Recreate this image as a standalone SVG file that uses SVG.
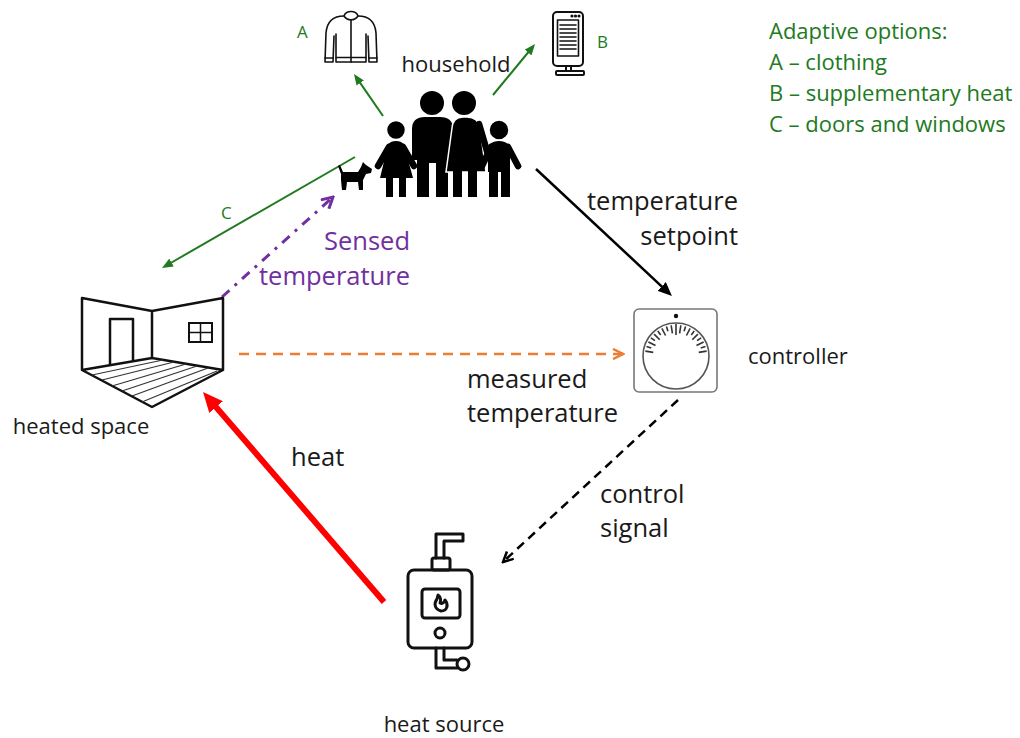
<svg xmlns="http://www.w3.org/2000/svg" width="1020" height="738" viewBox="0 0 1020 738">
  <style>
    text { font-family: "Open Sans", "Noto Sans", sans-serif; }
    .lbl { font-size: 22px; fill: #1a1a1a; }
    .edge { font-size: 25.5px; fill: #1a1a1a; }
    .grn { fill: #217a21; }
    .small { font-size: 17px; }
    .icon { fill: none; stroke: #111; stroke-width: 1.6; stroke-linejoin: round; stroke-linecap: round; }
    .boiler { fill: none; stroke: #111; stroke-width: 3; stroke-linejoin: round; stroke-linecap: round; }
    .room { fill: none; stroke: #111; stroke-width: 2.5; stroke-linejoin: round; }
    .floor { stroke: #333; stroke-width: 1.2; }
    .sil { fill: #000; }
    .limb { stroke: #000; stroke-width: 6.5; stroke-linecap: round; fill: none; }
    .tick { stroke: #333; stroke-width: 1.6; }
  </style>
  <defs>
    <marker id="hGreen" viewBox="0 0 11 9" markerWidth="11" markerHeight="9" refX="2" refY="4.5" orient="auto" markerUnits="userSpaceOnUse">
      <path d="M0,0 L11,4.5 L0,9 Z" fill="#217a21"/>
    </marker>
    <marker id="hBlack" viewBox="0 0 14 12" markerWidth="14" markerHeight="12" refX="2" refY="6" orient="auto" markerUnits="userSpaceOnUse">
      <path d="M0,0 L14,6 L0,12 Z" fill="#000"/>
    </marker>
    <marker id="hRed" viewBox="0 0 20 18" markerWidth="20" markerHeight="18" refX="2" refY="9" orient="auto" markerUnits="userSpaceOnUse">
      <path d="M0,0 L20,9 L0,18 Z" fill="#ff0000"/>
    </marker>
    <marker id="oPurple" viewBox="-1 -1 14 14" markerWidth="14" markerHeight="14" refX="11" refY="6" orient="auto" markerUnits="userSpaceOnUse">
      <path d="M0,0 L11,6 L0,12" fill="none" stroke="#7030a0" stroke-width="3" stroke-linejoin="miter"/>
    </marker>
    <marker id="oOrange" viewBox="-1 -1 13 12" markerWidth="13" markerHeight="12" refX="10" refY="5" orient="auto" markerUnits="userSpaceOnUse">
      <path d="M0,0 L10,5 L0,10" fill="none" stroke="#ed7d31" stroke-width="2.5"/>
    </marker>
    <marker id="oBlack" viewBox="-1 -1 13 12" markerWidth="13" markerHeight="12" refX="10" refY="5" orient="auto" markerUnits="userSpaceOnUse">
      <path d="M0,0 L10,5 L0,10" fill="none" stroke="#000" stroke-width="2.5"/>
    </marker>
  </defs>
  <rect width="1020" height="738" fill="#fff"/>

  <!-- connectors -->
  <g id="connectors" fill="none">
    <line x1="383" y1="116" x2="359.1" y2="81.4" stroke="#217a21" stroke-width="2" marker-end="url(#hGreen)"/>
    <line x1="493" y1="95" x2="529.3" y2="51" stroke="#217a21" stroke-width="2" marker-end="url(#hGreen)"/>
    <line x1="355" y1="157" x2="169.8" y2="263.5" stroke="#217a21" stroke-width="2" marker-end="url(#hGreen)"/>
    <line x1="222" y1="297" x2="333" y2="197" stroke="#7030a0" stroke-width="3" stroke-dasharray="10 7 3 7" marker-end="url(#oPurple)"/>
    <line x1="536" y1="169" x2="663.2" y2="287.8" stroke="#000" stroke-width="2.5" marker-end="url(#hBlack)"/>
    <line x1="239" y1="354" x2="623" y2="354" stroke="#ed7d31" stroke-width="2.5" stroke-dasharray="10 7" marker-end="url(#oOrange)"/>
    <line x1="678" y1="400" x2="503" y2="562" stroke="#000" stroke-width="2.5" stroke-dasharray="9 6" marker-end="url(#oBlack)"/>
    <line x1="384" y1="602" x2="214.8" y2="405.6" stroke="#ff0000" stroke-width="6" marker-end="url(#hRed)"/>
  </g>

  <!-- edge labels -->
  <g id="edge-labels">
    <text class="edge" x="738" y="210" text-anchor="end">temperature</text>
    <text class="edge" x="738" y="245" text-anchor="end">setpoint</text>
    <text class="edge" x="410" y="250" text-anchor="end" style="fill:#7030a0">Sensed</text>
    <text class="edge" x="410" y="285" text-anchor="end" style="fill:#7030a0">temperature</text>
    <text class="edge" x="467" y="388">measured</text>
    <text class="edge" x="467" y="422">temperature</text>
    <text class="edge" x="600" y="503">control</text>
    <text class="edge" x="600" y="537">signal</text>
    <text class="edge" x="291" y="466">heat</text>
    <text class="grn small" x="297" y="38">A</text>
    <text class="grn small" x="597" y="48">B</text>
    <text class="grn small" x="221" y="219">C</text>
  </g>

  <!-- household -->
  <g id="household">
    <text class="lbl" x="456" y="72" text-anchor="middle">household</text>
    <!-- father -->
    <circle class="sil" cx="432" cy="103" r="12"/>
    <path class="sil" d="M412,129 Q412,117 425,117 L440,117 Q453,117 453,129 L453,160 L448,160 L448,197 L436,197 L436,163 L429,163 L429,197 L417,197 L417,160 L412,160 Z"/>
    <!-- mother -->
    <circle class="sil" cx="464" cy="103" r="12"/>
    <path class="sil" d="M452,128 Q453,117 463,117 L467,117 Q478,117 480,128 L486,172 L446,172 Z" stroke="#fff" stroke-width="1.5"/>
    <rect class="sil" x="453" y="170" width="9" height="27"/>
    <rect class="sil" x="468" y="170" width="9" height="27"/>
    <line class="limb" x1="479" y1="124" x2="489" y2="158"/>
    <!-- girl -->
    <circle class="sil" cx="396" cy="130" r="9.5" stroke="#fff" stroke-width="1.5"/>
    <line class="limb" x1="389" y1="147" x2="378" y2="166"/>
    <line class="limb" x1="403" y1="147" x2="414" y2="166"/>
    <path class="sil" d="M388,145 Q390,141 396,141 Q402,141 404,145 L413,178 L380,178 Z"/>
    <rect class="sil" x="386" y="176" width="7" height="21"/>
    <rect class="sil" x="399" y="176" width="7" height="21"/>
    <!-- boy -->
    <circle class="sil" cx="499" cy="130" r="10" stroke="#fff" stroke-width="1.5"/>
    <line class="limb" x1="491" y1="147" x2="482" y2="166"/>
    <line class="limb" x1="508" y1="147" x2="518" y2="166"/>
    <path class="sil" d="M488,151 Q488,141 499,141 Q510,141 510,151 L510,172 L488,172 Z"/>
    <rect class="sil" x="489" y="170" width="9" height="27"/>
    <rect class="sil" x="501" y="170" width="9" height="27"/>
    <!-- dog -->
    <path class="sil" d="M338,166 L340,165 L343,172 L358,172 L361,167 L363,162 L366,165 L372,169 L371,173 L366,174 L363,180 L363,190 L359,190 L358,182 L347,182 L346,190 L342,190 L341,180 L341,174 Z"/>
  </g>

  <!-- adaptive option A: clothing -->
  <g id="clothing" class="icon">
    <path d="M344,16 C333,16 327,21 326,33 L325,62 L333,62 L334,36"/>
    <path d="M336,34 L336,62 L366,62 L366,34"/>
    <path d="M368,36 L369,62 L377,62 L376,33 C375,21 369,16 358,16"/>
    <path d="M344,16 C346,10 356,10 358,16 C355,21 347,21 344,16 Z"/>
    <line x1="336" y1="57.5" x2="366" y2="57.5"/>
    <line x1="325" y1="58" x2="333" y2="58"/>
    <line x1="369" y1="58" x2="377" y2="58"/>
    <line x1="351" y1="20" x2="351" y2="62"/>
  </g>

  <!-- adaptive option B: supplementary heater -->
  <g id="heater" class="icon">
    <rect x="553" y="12" width="30" height="54" rx="4" stroke-width="2"/>
    <rect x="557.5" y="20" width="21" height="36" stroke-width="1.6"/>
    <line x1="560" y1="25" x2="576" y2="25"/>
    <line x1="560" y1="29" x2="576" y2="29"/>
    <line x1="560" y1="33" x2="576" y2="33"/>
    <line x1="560" y1="37" x2="576" y2="37"/>
    <line x1="560" y1="41" x2="576" y2="41"/>
    <line x1="560" y1="45" x2="576" y2="45"/>
    <line x1="560" y1="49" x2="576" y2="49"/>
    <circle cx="572" cy="16" r="0.8" fill="#111"/>
    <circle cx="575.5" cy="16" r="0.8" fill="#111"/>
    <circle cx="579" cy="16" r="0.8" fill="#111"/>
    <path d="M566,66 L566,71 M571,66 L571,71" stroke-width="2"/>
    <rect x="556" y="71" width="28" height="4" rx="1" stroke-width="2"/>
  </g>

  <!-- heated space -->
  <g id="heated-space">
    <path class="room" d="M82,298 L152,311 L223,298 L223,370 L152,407 L82,370 Z M152,311 L152,358 M82,370 L152,358 L223,370"/>
    <path class="room" d="M110,365 L110,319 L133,319 L133,361" stroke-width="2.2"/>
    <rect x="189" y="323" width="23" height="19" fill="none" stroke="#111" stroke-width="2"/>
    <path d="M200.5,323 L200.5,342 M189,332.5 L212,332.5" stroke="#111" stroke-width="1.5"/>
    <g class="floor">
      <line x1="92" y1="375" x2="163" y2="360"/>
      <line x1="102" y1="380" x2="174" y2="362"/>
      <line x1="112" y1="386" x2="186" y2="364"/>
      <line x1="122" y1="391" x2="197" y2="366"/>
      <line x1="132" y1="396" x2="208" y2="368"/>
      <line x1="142" y1="402" x2="217" y2="371"/>
    </g>
    <text class="lbl" x="81" y="434" text-anchor="middle">heated space</text>
  </g>

  <!-- controller (thermostat) -->
  <g id="controller">
    <rect x="634" y="309" width="83" height="83" rx="5" fill="#fff" stroke="#777" stroke-width="1.6"/>
    <circle cx="676" cy="356" r="33" fill="none" stroke="#555" stroke-width="1.6"/>
    <circle cx="676" cy="316" r="2.2" fill="#111"/>
    <g class="tick">
      <line x1="676" y1="333" x2="676" y2="325" transform="rotate(-81 676 356)"/>
      <line x1="676" y1="330" x2="676" y2="325" transform="rotate(-72 676 356)"/>
      <line x1="676" y1="333" x2="676" y2="325" transform="rotate(-63 676 356)"/>
      <line x1="676" y1="330" x2="676" y2="325" transform="rotate(-54 676 356)"/>
      <line x1="676" y1="333" x2="676" y2="325" transform="rotate(-45 676 356)"/>
      <line x1="676" y1="330" x2="676" y2="325" transform="rotate(-36 676 356)"/>
      <line x1="676" y1="333" x2="676" y2="325" transform="rotate(-27 676 356)"/>
      <line x1="676" y1="330" x2="676" y2="325" transform="rotate(-18 676 356)"/>
      <line x1="676" y1="333" x2="676" y2="325" transform="rotate(-9 676 356)"/>
      <line x1="676" y1="335" x2="676" y2="324"/>
      <line x1="676" y1="333" x2="676" y2="325" transform="rotate(9 676 356)"/>
      <line x1="676" y1="330" x2="676" y2="325" transform="rotate(18 676 356)"/>
      <line x1="676" y1="333" x2="676" y2="325" transform="rotate(27 676 356)"/>
      <line x1="676" y1="330" x2="676" y2="325" transform="rotate(36 676 356)"/>
      <line x1="676" y1="333" x2="676" y2="325" transform="rotate(45 676 356)"/>
      <line x1="676" y1="330" x2="676" y2="325" transform="rotate(54 676 356)"/>
      <line x1="676" y1="333" x2="676" y2="325" transform="rotate(63 676 356)"/>
      <line x1="676" y1="330" x2="676" y2="325" transform="rotate(72 676 356)"/>
      <line x1="676" y1="333" x2="676" y2="325" transform="rotate(81 676 356)"/>
    </g>
    <text class="lbl" x="748" y="364">controller</text>
  </g>

  <!-- heat source (boiler) -->
  <g id="heat-source">
    <path class="boiler" d="M436,558 L436,534 L463,534 L463,541 L444,541 L444,558"/>
    <rect class="boiler" x="432" y="558" width="18" height="12" rx="2"/>
    <rect class="boiler" x="408" y="570" width="64" height="78" rx="6"/>
    <rect class="boiler" x="422" y="589" width="38" height="29" rx="3"/>
    <path class="boiler" stroke-width="2.4" d="M437,599 C434,603 434,609 441,611 C447,611 449,605 445,600 C444,603 442,604 440,603 C441,601 441,597 438,595 Z"/>
    <circle class="boiler" cx="440" cy="633" r="5"/>
    <path class="boiler" d="M436,648 L436,668 L457,668 M444,648 L444,660 L457,660"/>
    <circle class="boiler" cx="463" cy="664" r="6"/>
    <text class="lbl" x="444" y="732" text-anchor="middle">heat source</text>
  </g>

  <!-- legend -->
  <g id="legend" class="grn" style="font-size:22px">
    <text x="769" y="39">Adaptive options:</text>
    <text x="769" y="70">A – clothing</text>
    <text x="769" y="101">B – supplementary heat</text>
    <text x="769" y="132">C – doors and windows</text>
  </g>
</svg>
